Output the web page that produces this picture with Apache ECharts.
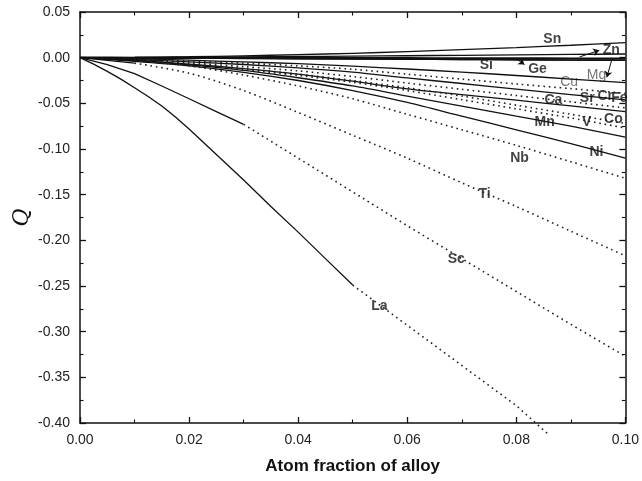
<!DOCTYPE html>
<html><head><meta charset="utf-8">
<script src="https://cdn.jsdelivr.net/npm/echarts@6/dist/echarts.min.js"></script>
<style>html,body{margin:0;padding:0;background:#fff}#c{width:642px;height:481px}</style>
</head><body><div id="c"></div>
<script>
// x grid (atom fraction of alloy)
const xs = [0, 0.01, 0.02, 0.03, 0.04, 0.05, 0.06, 0.07, 0.08, 0.09, 0.10];
// Q values per element
const Sn = [0, 0.0003, 0.001, 0.002, 0.0033, 0.0048, 0.0066, 0.0087, 0.011, 0.0136, 0.0165];
const Zn = [0, 0.0002, 0.0005, 0.0009, 0.0013, 0.0017, 0.0021, 0.0026, 0.003, 0.0035, 0.004];
const Si = [0, -0.0001, -0.0002, -0.0003, -0.0004, -0.0005, -0.0006, -0.0007, -0.0008, -0.0009, -0.001];
const Ge = [0, -0.0002, -0.0005, -0.0008, -0.0011, -0.0014, -0.0017, -0.002, -0.0023, -0.0026, -0.003];
const Mg = [0, -0.0003, -0.0006, -0.0009, -0.0012, -0.0015, -0.0018, -0.0021, -0.0024, -0.0027, -0.003];
const Cu = [0, -0.0012, -0.0028, -0.0046, -0.0066, -0.0093, -0.0124, -0.0158, -0.0195, -0.0234, -0.0274];
const Cr = [0, -0.0015, -0.0035, -0.006, -0.009, -0.0127, -0.0181, -0.0235, -0.0288, -0.0339, -0.039];
const Fe = [0, -0.002, -0.0045, -0.0075, -0.0112, -0.0159, -0.0222, -0.0283, -0.0344, -0.0404, -0.0463];
const Sr = [0, -0.0025, -0.0058, -0.0098, -0.0145, -0.0207, -0.0278, -0.0346, -0.0415, -0.0483, -0.055];
const Ca = [0, -0.003, -0.007, -0.012, -0.018, -0.0258, -0.0342, -0.0404, -0.0466, -0.0528, -0.059];
const Co = [0, -0.003, -0.007, -0.012, -0.018, -0.025, -0.033, -0.042, -0.052, -0.062, -0.072];
const V  = [0, -0.003, -0.0075, -0.013, -0.0195, -0.027, -0.036, -0.046, -0.056, -0.066, -0.077];
const Mn = [0, -0.003, -0.008, -0.014, -0.022, -0.031, -0.042, -0.053, -0.064, -0.075, -0.087];
const Ni = [0, -0.004, -0.009, -0.016, -0.025, -0.036, -0.049, -0.064, -0.079, -0.094, -0.110];
const Nb = [0, -0.003, -0.009, -0.019, -0.031, -0.045, -0.062, -0.079, -0.096, -0.114, -0.132];
const Ti = [0, -0.006, -0.017, -0.036, -0.060, -0.085, -0.110, -0.137, -0.163, -0.190, -0.217];
const xsSc = [0, 0.005, 0.01, 0.015, 0.02, 0.025, 0.03, 0.04, 0.05, 0.06, 0.07, 0.08, 0.09, 0.10];
const Sc = [0, -0.0075, -0.0175, -0.031, -0.045, -0.059, -0.073, -0.110, -0.147, -0.184, -0.220, -0.256, -0.292, -0.327];
const xsLa = [0, 0.0025, 0.005, 0.0075, 0.01, 0.0125, 0.015, 0.0175, 0.02, 0.025, 0.03, 0.035, 0.04, 0.045, 0.05, 0.06, 0.07, 0.08, 0.0858];
const La = [0, -0.007, -0.015, -0.0235, -0.033, -0.0425, -0.053, -0.065, -0.078, -0.106, -0.134, -0.163, -0.191, -0.220, -0.249, -0.293, -0.337, -0.381, -0.412];

// element labels: name, x, y (data coordinates)
const labelNames = ['Sn','Zn','Si','Ge','Cu','Mg','Ca','Sr','Cr','Fe','Mn','V','Co','Nb','Ni','Ti','Sc','La'];
const labelX = [0.0866,0.0974,0.0745,0.0839,0.0897,0.0947,0.0868,0.0930,0.0963,0.0989,0.0852,0.0929,0.0978,0.0806,0.0947,0.0742,0.0690,0.0549];
const labelY = [0.0205,0.0084,-0.0080,-0.0124,-0.0266,-0.0190,-0.0463,-0.0441,-0.0419,-0.0441,-0.0704,-0.0704,-0.0671,-0.1099,-0.1033,-0.1493,-0.2205,-0.2720];
const lightLabels = ['Cu','Mg'];
// arrows: [x1,y1,x2,y2] (arrowhead at second point)
const arrows = [
  [0.0916, 0.0008, 0.0952, 0.0080],
  [0.0800, -0.0012, 0.0815, -0.0075],
  [0.0976, -0.0003, 0.0966, -0.0215]
];

// line definitions: [name, xs, ys, solid-until-x]
const lines = [
  ['Sn', xs, Sn, 0.10], ['Zn', xs, Zn, 0.10], ['Si', xs, Si, 0.10], ['Ge', xs, Ge, 0.10], ['Mg', xs, Mg, 0.10],
  ['Cu', xs, Cu, 0.10], ['Cr', xs, Cr, 0], ['Fe', xs, Fe, 0.10], ['Sr', xs, Sr, 0], ['Ca', xs, Ca, 0.10],
  ['Co', xs, Co, 0], ['V', xs, V, 0], ['Mn', xs, Mn, 0.10], ['Ni', xs, Ni, 0.10], ['Nb', xs, Nb, 0.01],
  ['Ti', xs, Ti, 0.01], ['Sc', xsSc, Sc, 0.03], ['La', xsLa, La, 0.05]
];

const series = [];
lines.forEach(([name, x, y, solidTo]) => {
  const solid = [], dotted = [];
  for (let i = 0; i < x.length; i++) {
    if (x[i] <= solidTo + 1e-9) solid.push([x[i], y[i]]);
    if (x[i] >= solidTo - 1e-9) dotted.push([x[i], y[i]]);
  }
  const sm = (name === 'La' || name === 'Sc') ? false : 0.3;
  if (solid.length > 1) series.push({
    type: 'line', name: name, data: solid, symbol: 'none', smooth: sm, silent: true,
    lineStyle: { color: '#111', width: name === 'Si' ? 2.2 : 1.3 }
  });
  if (dotted.length > 1) series.push({
    type: 'line', name: name + '_d', data: dotted, symbol: 'none', smooth: sm, silent: true,
    clip: name !== 'La',
    lineStyle: { color: '#222', width: 1.6, type: [1.6, 3.8] }
  });
});

series.push({
  type: 'scatter', symbolSize: 0, silent: true,
  data: labelNames.map((n, i) => ({ name: n, value: [labelX[i], labelY[i]],
    label: lightLabels.includes(n) ? { fontWeight: 'normal', color: '#555' } : {} })),
  label: { show: true, position: 'inside', formatter: p => p.name,
    fontFamily: 'Liberation Sans, Arial, sans-serif', fontSize: 14, fontWeight: 'bold', color: '#111' },
  markLine: {
    silent: true, symbol: ['none', 'arrow'], symbolSize: 6, animation: false,
    label: { show: false },
    lineStyle: { type: 'solid', color: '#111', width: 1 },
    data: arrows.map(a => [{ coord: [a[0], a[1]] }, { coord: [a[2], a[3]] }])
  }
});

const axisCommon = {
  axisLine: { show: true, onZero: false, lineStyle: { color: '#111', width: 1.5 } },
  axisTick: { show: true, inside: true, length: 6, lineStyle: { color: '#111', width: 1.3 } },
  minorTick: { show: true, splitNumber: 2, length: 3.5, lineStyle: { color: '#111', width: 1.1 } },
  splitLine: { show: false }, minorSplitLine: { show: false }
};
const fmt = v => v.toFixed(2);
const option = {
  animation: false,
  backgroundColor: '#fff',
  grid: { left: 80, right: 16, top: 12, bottom: 58 },
  xAxis: [
    Object.assign({ type: 'value', min: 0, max: 0.1, interval: 0.02, position: 'bottom',
      name: 'Atom fraction of alloy', nameLocation: 'middle', nameGap: 35,
      nameTextStyle: { fontFamily: 'Liberation Sans, Arial, sans-serif', fontSize: 17, fontWeight: 'bold', color: '#111' },
      axisLabel: { formatter: fmt, fontFamily: 'Liberation Sans, Arial, sans-serif', fontSize: 14, color: '#222', margin: 10 } }, axisCommon),
    Object.assign({ type: 'value', min: 0, max: 0.1, interval: 0.02, position: 'top', axisLabel: { show: false } }, axisCommon)
  ],
  yAxis: [
    Object.assign({ type: 'value', min: -0.4, max: 0.05, interval: 0.05, position: 'left',
      name: 'Q', nameLocation: 'middle', nameGap: 47, nameRotate: 90, nameMoveOverlap: false,
      nameTextStyle: { fontFamily: 'DejaVu Serif, Liberation Serif, serif', fontStyle: 'italic', fontSize: 22, color: '#111' },
      axisLabel: { formatter: fmt, fontFamily: 'Liberation Sans, Arial, sans-serif', fontSize: 14, color: '#222', margin: 10 } }, axisCommon),
    Object.assign({ type: 'value', min: -0.4, max: 0.05, interval: 0.05, position: 'right', axisLabel: { show: false } }, axisCommon)
  ],
  series: series
};
const chart = echarts.init(document.getElementById('c'), null, { renderer: 'canvas' });
chart.setOption(option);
</script>
</body></html>
